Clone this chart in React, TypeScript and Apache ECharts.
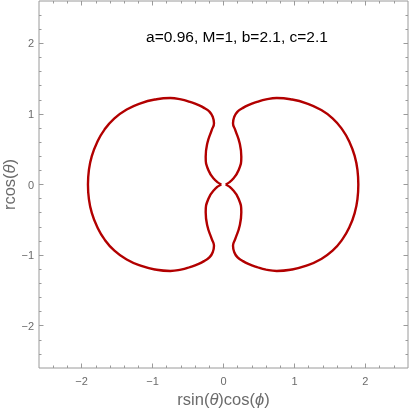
import React, { useEffect, useRef } from "react";
import * as echarts from "echarts";

// Curve: left lobe (closed, starts at the inner cusp)
const leftLobe: number[][] = [
  [-0.03, 0.0], [-0.12, 0.064], [-0.214, 0.205], [-0.251, 0.394], [-0.228, 0.584],
  [-0.166, 0.772], [-0.134, 0.867], [-0.152, 0.96], [-0.195, 1.03], [-0.265, 1.08],
  [-0.35, 1.125], [-0.472, 1.17], [-0.6, 1.206], [-0.75, 1.225], [-0.962, 1.205],
  [-1.169, 1.151], [-1.364, 1.063], [-1.537, 0.938], [-1.677, 0.778], [-1.782, 0.596],
  [-1.856, 0.402], [-1.897, 0.203], [-1.91, 0.0],
  [-1.897, -0.203], [-1.856, -0.402], [-1.782, -0.596], [-1.677, -0.778], [-1.537, -0.938],
  [-1.364, -1.063], [-1.169, -1.151], [-0.962, -1.205], [-0.75, -1.225], [-0.6, -1.206],
  [-0.472, -1.17], [-0.35, -1.125], [-0.265, -1.08], [-0.195, -1.03], [-0.152, -0.96],
  [-0.134, -0.867], [-0.166, -0.772], [-0.228, -0.584], [-0.251, -0.394], [-0.214, -0.205],
  [-0.12, -0.064], [-0.03, 0.0],
];
// Right lobe
const rightLobe: number[][] = [
  [0.03, 0.0], [0.12, 0.064], [0.214, 0.205], [0.251, 0.394], [0.228, 0.584],
  [0.166, 0.772], [0.134, 0.867], [0.152, 0.96], [0.195, 1.03], [0.265, 1.08],
  [0.35, 1.125], [0.472, 1.17], [0.6, 1.206], [0.75, 1.225], [0.962, 1.205],
  [1.169, 1.151], [1.364, 1.063], [1.537, 0.938], [1.675, 0.778], [1.778, 0.596],
  [1.849, 0.402], [1.888, 0.203], [1.9, 0.0],
  [1.888, -0.203], [1.849, -0.402], [1.778, -0.596], [1.675, -0.778], [1.537, -0.938],
  [1.364, -1.063], [1.169, -1.151], [0.962, -1.205], [0.75, -1.225], [0.6, -1.206],
  [0.472, -1.17], [0.35, -1.125], [0.265, -1.08], [0.195, -1.03], [0.152, -0.96],
  [0.134, -0.867], [0.166, -0.772], [0.228, -0.584], [0.251, -0.394], [0.214, -0.205],
  [0.12, -0.064], [0.03, 0.0],
];

const majorTicks = [-2, -1, 0, 1, 2];
const minorTicks = [
  -2.4, -2.2, -1.8, -1.6, -1.4, -1.2, -0.8, -0.6, -0.4, -0.2,
  0.2, 0.4, 0.6, 0.8, 1.2, 1.4, 1.6, 1.8, 2.2, 2.4,
];
const axisMin = -2.6;
const axisMax = 2.6;
const titleText = "a=0.96, M=1, b=2.1, c=2.1";
const xName = "{n|rsin(}{i|θ}{n|)cos(}{i|ϕ}{n|)}";
const yName = "{n|rcos(}{i|θ}{n|)}";

const FONT = "'Liberation Sans', Arial, sans-serif";
const FRAME = "#9a9a9a";
const LABEL = "#6b6b6b";

const fmt = (v: number) => (v < 0 ? "\u2212" + Math.abs(v) : String(v));

function makeAxis(position: string, major: boolean, extra: any = {}) {
  return {
    type: "value",
    position,
    min: axisMin,
    max: axisMax,
    splitLine: { show: false },
    axisLine: { show: false, onZero: false },
    axisTick: {
      show: true,
      inside: true,
      length: major ? 4.5 : 2.5,
      customValues: major ? majorTicks : minorTicks,
      lineStyle: { color: FRAME, width: 1 },
    },
    axisLabel: { show: false },
    ...extra,
  };
}

export default function App() {
  const ref = useRef<HTMLDivElement>(null);
  useEffect(() => {
    if (!ref.current) return;
    const chart = echarts.init(ref.current, undefined, { renderer: "svg" });
    const nameRich = {
      n: { fontSize: 16.5, fill: LABEL, color: LABEL, fontFamily: FONT },
      i: { fontSize: 16.5, fill: LABEL, color: LABEL, fontFamily: FONT, fontStyle: "italic" },
    };
    const labelStyle = (margin: number) => ({
      show: true,
      customValues: majorTicks,
      formatter: fmt,
      color: LABEL,
      fontSize: 11,
      fontFamily: FONT,
      margin,
    });
    chart.setOption({
      animation: false,
      grid: {
        left: 39,
        right: 1,
        top: 1,
        bottom: 44,
        show: true,
        borderColor: FRAME,
        borderWidth: 1,
        backgroundColor: "transparent",
        containLabel: false,
        outerBoundsMode: "none",
      },
      xAxis: [
        makeAxis("bottom", true, {
          axisLabel: labelStyle(7),
          name: xName,
          nameLocation: "middle",
          nameGap: 21,
          nameTextStyle: { rich: nameRich },
        }),
        makeAxis("bottom", false),
        makeAxis("top", true),
        makeAxis("top", false),
      ],
      yAxis: [
        makeAxis("left", true, { axisLabel: labelStyle(5) }),
        makeAxis("left", false),
        makeAxis("right", true),
        makeAxis("right", false),
      ],
      graphic: [
        {
          type: "text",
          x: 237,
          y: 36,
          style: {
            text: titleText,
            fill: "#000",
            fontSize: 15.5,
            fontFamily: FONT,
            align: "center",
            verticalAlign: "middle",
          },
        },
        {
          type: "text",
          x: 9,
          y: 184.5,
          rotation: Math.PI / 2,
          style: {
            text: yName,
            rich: nameRich,
            fill: LABEL,
            fontSize: 16.5,
            fontFamily: FONT,
            align: "center",
            verticalAlign: "middle",
          },
        },
      ],
      series: [
        {
          type: "line",
          xAxisIndex: 0,
          yAxisIndex: 0,
          data: leftLobe,
          showSymbol: false,
          symbol: "none",
          smooth: 0.5,
          lineStyle: { color: "#b20000", width: 2.4 },
        },
        {
          type: "line",
          xAxisIndex: 0,
          yAxisIndex: 0,
          data: rightLobe,
          showSymbol: false,
          symbol: "none",
          smooth: 0.5,
          lineStyle: { color: "#b20000", width: 2.4 },
        },
      ],
    });
    return () => chart.dispose();
  }, []);
  return (
    <div
      ref={ref}
      style={{ position: "fixed", left: 0, top: 0, width: 409, height: 412 }}
    />
  );
}
